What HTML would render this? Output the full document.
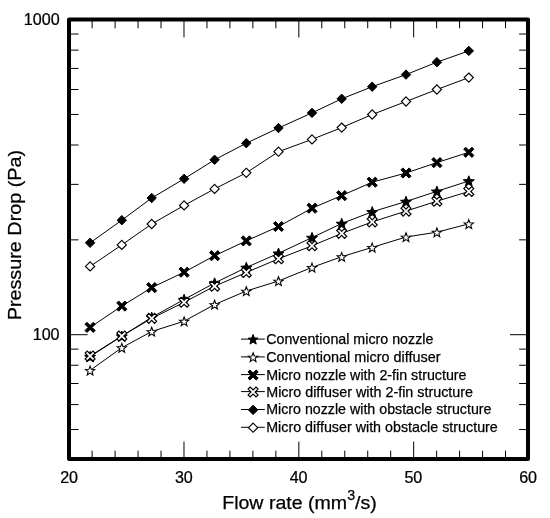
<!DOCTYPE html>
<html><head><meta charset="utf-8"><title>Pressure drop vs flow rate</title>
<style>
html,body{margin:0;padding:0;background:#fff;}
body{width:550px;height:518px;overflow:hidden;}
svg{display:block;font-family:"Liberation Sans",sans-serif;fill:#000;}
.tk{stroke:#000;stroke-width:1;fill:none;}
.ln{stroke:#000;stroke-width:1;fill:none;}
.f{fill:#000;stroke:#000;stroke-width:1;stroke-linejoin:miter;}
.o{fill:#fff;stroke:#000;stroke-width:1.25;stroke-linejoin:miter;}
.tl{font-size:15.6px;}
.lg{font-size:14.6px;}
.ax{font-size:19px;}
text{stroke:#000;stroke-width:0.25px;}
</style></head><body>
<svg width="550" height="518" viewBox="0 0 550 518">
<rect x="0" y="0" width="550" height="518" fill="#fff"/>
<path class="tk" d="M92.12 18.9V28.3M92.12 460.1V450.7M115.09 18.9V28.3M115.09 460.1V450.7M138.05 18.9V28.3M138.05 460.1V450.7M161.02 18.9V28.3M161.02 460.1V450.7M183.99 18.9V37.4M183.99 460.1V441.6M206.96 18.9V28.3M206.96 460.1V450.7M229.92 18.9V28.3M229.92 460.1V450.7M252.89 18.9V28.3M252.89 460.1V450.7M275.86 18.9V28.3M275.86 460.1V450.7M298.83 18.9V37.4M298.83 460.1V441.6M321.79 18.9V28.3M321.79 460.1V450.7M344.76 18.9V28.3M344.76 460.1V450.7M367.73 18.9V28.3M367.73 460.1V450.7M390.7 18.9V28.3M390.7 460.1V450.7M413.66 18.9V37.4M413.66 460.1V441.6M436.63 18.9V28.3M436.63 460.1V450.7M459.6 18.9V28.3M459.6 460.1V450.7M482.57 18.9V28.3M482.57 460.1V450.7M505.53 18.9V28.3M505.53 460.1V450.7M69.15 429.55H78.55M528.5 429.55H519.1M69.15 404.6H78.55M528.5 404.6H519.1M69.15 383.51H78.55M528.5 383.51H519.1M69.15 365.24H78.55M528.5 365.24H519.1M69.15 349.12H78.55M528.5 349.12H519.1M69.15 334.7H87.65M528.5 334.7H510M69.15 239.85H78.55M528.5 239.85H519.1M69.15 184.36H78.55M528.5 184.36H519.1M69.15 144.99H78.55M528.5 144.99H519.1M69.15 114.45H78.55M528.5 114.45H519.1M69.15 89.5H78.55M528.5 89.5H519.1M69.15 68.41H78.55M528.5 68.41H519.1M69.15 50.14H78.55M528.5 50.14H519.1M69.15 34.02H78.55M528.5 34.02H519.1"/>
<g><polyline class="ln" points="90.1,356.6 121.8,336.2 151.7,317.3 184.1,299.5 214.6,283 246.3,267.5 278.5,253.3 312,237.6 341.7,223.5 372.2,211.8 406,201.5 436.9,191.3 468.8,181"/>
<polygon class="f" points="90.1,351.4 91.57,355.18 95.62,355.41 92.48,357.97 93.51,361.89 90.1,359.7 86.69,361.89 87.72,357.97 84.58,355.41 88.63,355.18"/>
<polygon class="f" points="121.8,331 123.27,334.78 127.32,335.01 124.18,337.57 125.21,341.49 121.8,339.3 118.39,341.49 119.42,337.57 116.28,335.01 120.33,334.78"/>
<polygon class="f" points="151.7,312.1 153.17,315.88 157.22,316.11 154.08,318.67 155.11,322.59 151.7,320.4 148.29,322.59 149.32,318.67 146.18,316.11 150.23,315.88"/>
<polygon class="f" points="184.1,294.3 185.57,298.08 189.62,298.31 186.48,300.87 187.51,304.79 184.1,302.6 180.69,304.79 181.72,300.87 178.58,298.31 182.63,298.08"/>
<polygon class="f" points="214.6,277.8 216.07,281.58 220.12,281.81 216.98,284.37 218.01,288.29 214.6,286.1 211.19,288.29 212.22,284.37 209.08,281.81 213.13,281.58"/>
<polygon class="f" points="246.3,262.3 247.77,266.08 251.82,266.31 248.68,268.87 249.71,272.79 246.3,270.6 242.89,272.79 243.92,268.87 240.78,266.31 244.83,266.08"/>
<polygon class="f" points="278.5,248.1 279.97,251.88 284.02,252.11 280.88,254.67 281.91,258.59 278.5,256.4 275.09,258.59 276.12,254.67 272.98,252.11 277.03,251.88"/>
<polygon class="f" points="312,232.4 313.47,236.18 317.52,236.41 314.38,238.97 315.41,242.89 312,240.7 308.59,242.89 309.62,238.97 306.48,236.41 310.53,236.18"/>
<polygon class="f" points="341.7,218.3 343.17,222.08 347.22,222.31 344.08,224.87 345.11,228.79 341.7,226.6 338.29,228.79 339.32,224.87 336.18,222.31 340.23,222.08"/>
<polygon class="f" points="372.2,206.6 373.67,210.38 377.72,210.61 374.58,213.17 375.61,217.09 372.2,214.9 368.79,217.09 369.82,213.17 366.68,210.61 370.73,210.38"/>
<polygon class="f" points="406,196.3 407.47,200.08 411.52,200.31 408.38,202.87 409.41,206.79 406,204.6 402.59,206.79 403.62,202.87 400.48,200.31 404.53,200.08"/>
<polygon class="f" points="436.9,186.1 438.37,189.88 442.42,190.11 439.28,192.67 440.31,196.59 436.9,194.4 433.49,196.59 434.52,192.67 431.38,190.11 435.43,189.88"/>
<polygon class="f" points="468.8,175.8 470.27,179.58 474.32,179.81 471.18,182.37 472.21,186.29 468.8,184.1 465.39,186.29 466.42,182.37 463.28,179.81 467.33,179.58"/>
</g>
<g><polyline class="ln" points="90.1,370.4 121.8,347.7 151.7,331.5 184.1,321.2 214.6,304.5 246.3,291 278.5,281 312,267.4 341.7,256.7 372.2,247.4 406,237 436.9,232.2 468.8,223.9"/>
<polygon class="o" style="stroke-width:1.05" points="90.1,366.1 91.3,369.34 94.76,369.49 92.05,371.63 92.98,374.96 90.1,373.05 87.22,374.96 88.15,371.63 85.44,369.49 88.9,369.34"/>
<polygon class="o" style="stroke-width:1.05" points="121.8,343.4 123,346.64 126.46,346.79 123.75,348.93 124.68,352.26 121.8,350.35 118.92,352.26 119.85,348.93 117.14,346.79 120.6,346.64"/>
<polygon class="o" style="stroke-width:1.05" points="151.7,327.2 152.9,330.44 156.36,330.59 153.65,332.73 154.58,336.06 151.7,334.15 148.82,336.06 149.75,332.73 147.04,330.59 150.5,330.44"/>
<polygon class="o" style="stroke-width:1.05" points="184.1,316.9 185.3,320.14 188.76,320.29 186.05,322.43 186.98,325.76 184.1,323.85 181.22,325.76 182.15,322.43 179.44,320.29 182.9,320.14"/>
<polygon class="o" style="stroke-width:1.05" points="214.6,300.2 215.8,303.44 219.26,303.59 216.55,305.73 217.48,309.06 214.6,307.15 211.72,309.06 212.65,305.73 209.94,303.59 213.4,303.44"/>
<polygon class="o" style="stroke-width:1.05" points="246.3,286.7 247.5,289.94 250.96,290.09 248.25,292.23 249.18,295.56 246.3,293.65 243.42,295.56 244.35,292.23 241.64,290.09 245.1,289.94"/>
<polygon class="o" style="stroke-width:1.05" points="278.5,276.7 279.7,279.94 283.16,280.09 280.45,282.23 281.38,285.56 278.5,283.65 275.62,285.56 276.55,282.23 273.84,280.09 277.3,279.94"/>
<polygon class="o" style="stroke-width:1.05" points="312,263.1 313.2,266.34 316.66,266.49 313.95,268.63 314.88,271.96 312,270.05 309.12,271.96 310.05,268.63 307.34,266.49 310.8,266.34"/>
<polygon class="o" style="stroke-width:1.05" points="341.7,252.4 342.9,255.64 346.36,255.79 343.65,257.93 344.58,261.26 341.7,259.35 338.82,261.26 339.75,257.93 337.04,255.79 340.5,255.64"/>
<polygon class="o" style="stroke-width:1.05" points="372.2,243.1 373.4,246.34 376.86,246.49 374.15,248.63 375.08,251.96 372.2,250.05 369.32,251.96 370.25,248.63 367.54,246.49 371,246.34"/>
<polygon class="o" style="stroke-width:1.05" points="406,232.7 407.2,235.94 410.66,236.09 407.95,238.23 408.88,241.56 406,239.65 403.12,241.56 404.05,238.23 401.34,236.09 404.8,235.94"/>
<polygon class="o" style="stroke-width:1.05" points="436.9,227.9 438.1,231.14 441.56,231.29 438.85,233.43 439.78,236.76 436.9,234.85 434.02,236.76 434.95,233.43 432.24,231.29 435.7,231.14"/>
<polygon class="o" style="stroke-width:1.05" points="468.8,219.6 470,222.84 473.46,222.99 470.75,225.13 471.68,228.46 468.8,226.55 465.92,228.46 466.85,225.13 464.14,222.99 467.6,222.84"/>
</g>
<g><polyline class="ln" points="90.1,327.4 121.8,306.1 151.7,287.6 184.1,272.2 214.6,255.7 246.3,240.9 278.5,226.5 312,208.2 341.7,195.6 372.2,182.2 406,173 436.9,162.6 468.8,152.3"/>
<polygon class="f" points="92.08,327.4 95.19,330.51 93.21,332.49 90.1,329.38 86.99,332.49 85.01,330.51 88.12,327.4 85.01,324.29 86.99,322.31 90.1,325.42 93.21,322.31 95.19,324.29"/>
<polygon class="f" points="123.78,306.1 126.89,309.21 124.91,311.19 121.8,308.08 118.69,311.19 116.71,309.21 119.82,306.1 116.71,302.99 118.69,301.01 121.8,304.12 124.91,301.01 126.89,302.99"/>
<polygon class="f" points="153.68,287.6 156.79,290.71 154.81,292.69 151.7,289.58 148.59,292.69 146.61,290.71 149.72,287.6 146.61,284.49 148.59,282.51 151.7,285.62 154.81,282.51 156.79,284.49"/>
<polygon class="f" points="186.08,272.2 189.19,275.31 187.21,277.29 184.1,274.18 180.99,277.29 179.01,275.31 182.12,272.2 179.01,269.09 180.99,267.11 184.1,270.22 187.21,267.11 189.19,269.09"/>
<polygon class="f" points="216.58,255.7 219.69,258.81 217.71,260.79 214.6,257.68 211.49,260.79 209.51,258.81 212.62,255.7 209.51,252.59 211.49,250.61 214.6,253.72 217.71,250.61 219.69,252.59"/>
<polygon class="f" points="248.28,240.9 251.39,244.01 249.41,245.99 246.3,242.88 243.19,245.99 241.21,244.01 244.32,240.9 241.21,237.79 243.19,235.81 246.3,238.92 249.41,235.81 251.39,237.79"/>
<polygon class="f" points="280.48,226.5 283.59,229.61 281.61,231.59 278.5,228.48 275.39,231.59 273.41,229.61 276.52,226.5 273.41,223.39 275.39,221.41 278.5,224.52 281.61,221.41 283.59,223.39"/>
<polygon class="f" points="313.98,208.2 317.09,211.31 315.11,213.29 312,210.18 308.89,213.29 306.91,211.31 310.02,208.2 306.91,205.09 308.89,203.11 312,206.22 315.11,203.11 317.09,205.09"/>
<polygon class="f" points="343.68,195.6 346.79,198.71 344.81,200.69 341.7,197.58 338.59,200.69 336.61,198.71 339.72,195.6 336.61,192.49 338.59,190.51 341.7,193.62 344.81,190.51 346.79,192.49"/>
<polygon class="f" points="374.18,182.2 377.29,185.31 375.31,187.29 372.2,184.18 369.09,187.29 367.11,185.31 370.22,182.2 367.11,179.09 369.09,177.11 372.2,180.22 375.31,177.11 377.29,179.09"/>
<polygon class="f" points="407.98,173 411.09,176.11 409.11,178.09 406,174.98 402.89,178.09 400.91,176.11 404.02,173 400.91,169.89 402.89,167.91 406,171.02 409.11,167.91 411.09,169.89"/>
<polygon class="f" points="438.88,162.6 441.99,165.71 440.01,167.69 436.9,164.58 433.79,167.69 431.81,165.71 434.92,162.6 431.81,159.49 433.79,157.51 436.9,160.62 440.01,157.51 441.99,159.49"/>
<polygon class="f" points="470.78,152.3 473.89,155.41 471.91,157.39 468.8,154.28 465.69,157.39 463.71,155.41 466.82,152.3 463.71,149.19 465.69,147.21 468.8,150.32 471.91,147.21 473.89,149.19"/>
</g>
<g><polyline class="ln" points="90.1,356 121.8,336 151.7,318.4 184.1,302.3 214.6,286.2 246.3,272.5 278.5,258.8 312,245.8 341.7,233.4 372.2,221.9 406,211.1 436.9,201.2 468.8,191.5"/>
<polygon class="o" style="stroke-width:1.2" points="92.15,356 95.05,358.9 93,360.95 90.1,358.05 87.2,360.95 85.15,358.9 88.05,356 85.15,353.1 87.2,351.05 90.1,353.95 93,351.05 95.05,353.1"/>
<polygon class="o" style="stroke-width:1.2" points="123.85,336 126.75,338.9 124.7,340.95 121.8,338.05 118.9,340.95 116.85,338.9 119.75,336 116.85,333.1 118.9,331.05 121.8,333.95 124.7,331.05 126.75,333.1"/>
<polygon class="o" style="stroke-width:1.2" points="153.75,318.4 156.65,321.3 154.6,323.35 151.7,320.45 148.8,323.35 146.75,321.3 149.65,318.4 146.75,315.5 148.8,313.45 151.7,316.35 154.6,313.45 156.65,315.5"/>
<polygon class="o" style="stroke-width:1.2" points="186.15,302.3 189.05,305.2 187,307.25 184.1,304.35 181.2,307.25 179.15,305.2 182.05,302.3 179.15,299.4 181.2,297.35 184.1,300.25 187,297.35 189.05,299.4"/>
<polygon class="o" style="stroke-width:1.2" points="216.65,286.2 219.55,289.1 217.5,291.15 214.6,288.25 211.7,291.15 209.65,289.1 212.55,286.2 209.65,283.3 211.7,281.25 214.6,284.15 217.5,281.25 219.55,283.3"/>
<polygon class="o" style="stroke-width:1.2" points="248.35,272.5 251.25,275.4 249.2,277.45 246.3,274.55 243.4,277.45 241.35,275.4 244.25,272.5 241.35,269.6 243.4,267.55 246.3,270.45 249.2,267.55 251.25,269.6"/>
<polygon class="o" style="stroke-width:1.2" points="280.55,258.8 283.45,261.7 281.4,263.75 278.5,260.85 275.6,263.75 273.55,261.7 276.45,258.8 273.55,255.9 275.6,253.85 278.5,256.75 281.4,253.85 283.45,255.9"/>
<polygon class="o" style="stroke-width:1.2" points="314.05,245.8 316.95,248.7 314.9,250.75 312,247.85 309.1,250.75 307.05,248.7 309.95,245.8 307.05,242.9 309.1,240.85 312,243.75 314.9,240.85 316.95,242.9"/>
<polygon class="o" style="stroke-width:1.2" points="343.75,233.4 346.65,236.3 344.6,238.35 341.7,235.45 338.8,238.35 336.75,236.3 339.65,233.4 336.75,230.5 338.8,228.45 341.7,231.35 344.6,228.45 346.65,230.5"/>
<polygon class="o" style="stroke-width:1.2" points="374.25,221.9 377.15,224.8 375.1,226.85 372.2,223.95 369.3,226.85 367.25,224.8 370.15,221.9 367.25,219 369.3,216.95 372.2,219.85 375.1,216.95 377.15,219"/>
<polygon class="o" style="stroke-width:1.2" points="408.05,211.1 410.95,214 408.9,216.05 406,213.15 403.1,216.05 401.05,214 403.95,211.1 401.05,208.2 403.1,206.15 406,209.05 408.9,206.15 410.95,208.2"/>
<polygon class="o" style="stroke-width:1.2" points="438.95,201.2 441.85,204.1 439.8,206.15 436.9,203.25 434,206.15 431.95,204.1 434.85,201.2 431.95,198.3 434,196.25 436.9,199.15 439.8,196.25 441.85,198.3"/>
<polygon class="o" style="stroke-width:1.2" points="470.85,191.5 473.75,194.4 471.7,196.45 468.8,193.55 465.9,196.45 463.85,194.4 466.75,191.5 463.85,188.6 465.9,186.55 468.8,189.45 471.7,186.55 473.75,188.6"/>
</g>
<g><polyline class="ln" points="90.1,242.8 121.8,220.2 151.7,198 184.1,178.8 214.6,159.8 246.3,143.2 278.5,128 312,112.9 341.7,98.8 372.2,86.7 406,74.6 436.9,62.2 468.8,50.9"/>
<polygon class="f" points="90.1,238.1 94.8,242.8 90.1,247.5 85.4,242.8"/>
<polygon class="f" points="121.8,215.5 126.5,220.2 121.8,224.9 117.1,220.2"/>
<polygon class="f" points="151.7,193.3 156.4,198 151.7,202.7 147,198"/>
<polygon class="f" points="184.1,174.1 188.8,178.8 184.1,183.5 179.4,178.8"/>
<polygon class="f" points="214.6,155.1 219.3,159.8 214.6,164.5 209.9,159.8"/>
<polygon class="f" points="246.3,138.5 251,143.2 246.3,147.9 241.6,143.2"/>
<polygon class="f" points="278.5,123.3 283.2,128 278.5,132.7 273.8,128"/>
<polygon class="f" points="312,108.2 316.7,112.9 312,117.6 307.3,112.9"/>
<polygon class="f" points="341.7,94.1 346.4,98.8 341.7,103.5 337,98.8"/>
<polygon class="f" points="372.2,82 376.9,86.7 372.2,91.4 367.5,86.7"/>
<polygon class="f" points="406,69.9 410.7,74.6 406,79.3 401.3,74.6"/>
<polygon class="f" points="436.9,57.5 441.6,62.2 436.9,66.9 432.2,62.2"/>
<polygon class="f" points="468.8,46.2 473.5,50.9 468.8,55.6 464.1,50.9"/>
</g>
<g><polyline class="ln" points="90.1,266.4 121.8,244.9 151.7,224 184.1,205.4 214.6,188.9 246.3,172.8 278.5,151.7 312,139.4 341.7,127.6 372.2,114.5 406,101.5 436.9,89.5 468.8,77.6"/>
<polygon class="o" style="stroke-width:1.15" points="90.1,261.8 94.7,266.4 90.1,271 85.5,266.4"/>
<polygon class="o" style="stroke-width:1.15" points="121.8,240.3 126.4,244.9 121.8,249.5 117.2,244.9"/>
<polygon class="o" style="stroke-width:1.15" points="151.7,219.4 156.3,224 151.7,228.6 147.1,224"/>
<polygon class="o" style="stroke-width:1.15" points="184.1,200.8 188.7,205.4 184.1,210 179.5,205.4"/>
<polygon class="o" style="stroke-width:1.15" points="214.6,184.3 219.2,188.9 214.6,193.5 210,188.9"/>
<polygon class="o" style="stroke-width:1.15" points="246.3,168.2 250.9,172.8 246.3,177.4 241.7,172.8"/>
<polygon class="o" style="stroke-width:1.15" points="278.5,147.1 283.1,151.7 278.5,156.3 273.9,151.7"/>
<polygon class="o" style="stroke-width:1.15" points="312,134.8 316.6,139.4 312,144 307.4,139.4"/>
<polygon class="o" style="stroke-width:1.15" points="341.7,123 346.3,127.6 341.7,132.2 337.1,127.6"/>
<polygon class="o" style="stroke-width:1.15" points="372.2,109.9 376.8,114.5 372.2,119.1 367.6,114.5"/>
<polygon class="o" style="stroke-width:1.15" points="406,96.9 410.6,101.5 406,106.1 401.4,101.5"/>
<polygon class="o" style="stroke-width:1.15" points="436.9,84.9 441.5,89.5 436.9,94.1 432.3,89.5"/>
<polygon class="o" style="stroke-width:1.15" points="468.8,73 473.4,77.6 468.8,82.2 464.2,77.6"/>
</g>
<rect x="69" y="19.4" width="459" height="439.65" fill="none" stroke="#000" stroke-width="4" stroke-linejoin="round"/>
<text class="tl" transform="translate(69.1 483.3) scale(1.035 1)" text-anchor="middle">20</text>
<text class="tl" transform="translate(183.85 483.3) scale(1.035 1)" text-anchor="middle">30</text>
<text class="tl" transform="translate(298.6 483.3) scale(1.035 1)" text-anchor="middle">40</text>
<text class="tl" transform="translate(413.35 483.3) scale(1.035 1)" text-anchor="middle">50</text>
<text class="tl" transform="translate(528.1 483.3) scale(1.035 1)" text-anchor="middle">60</text>
<text class="tl" transform="translate(59.6 25) scale(1.035 1)" text-anchor="end">1000</text>
<text class="tl" transform="translate(59.6 340) scale(1.035 1)" text-anchor="end">100</text>
<text class="ax" x="222.2" y="509" textLength="154.6" lengthAdjust="spacingAndGlyphs">Flow rate (mm<tspan dy="-9" font-size="13.8px">3</tspan><tspan dy="9">/s)</tspan></text>
<text class="ax" transform="translate(21.1 320.3) rotate(-90)" textLength="170.4" lengthAdjust="spacingAndGlyphs">Pressure Drop (Pa)</text>
<path class="ln" d="M241 339.1H264.8"/>
<polygon class="f" points="253.1,334.5 254.45,337.94 258.14,338.16 255.29,340.51 256.22,344.09 253.1,342.1 249.98,344.09 250.91,340.51 248.06,338.16 251.75,337.94"/>
<text class="lg" x="266.2" y="344.3" textLength="167.2" lengthAdjust="spacingAndGlyphs">Conventional micro nozzle</text>
<path class="ln" d="M241 356.9H264.8"/>
<polygon class="o" style="stroke-width:1.05" points="253.1,352.7 254.3,355.94 257.76,356.09 255.05,358.23 255.98,361.56 253.1,359.65 250.22,361.56 251.15,358.23 248.44,356.09 251.9,355.94"/>
<text class="lg" x="266.2" y="362.1" textLength="174.4" lengthAdjust="spacingAndGlyphs">Conventional micro diffuser</text>
<path class="ln" d="M241 374.6H264.8"/>
<polygon class="f" points="255.08,375 258.19,378.11 256.21,380.09 253.1,376.98 249.99,380.09 248.01,378.11 251.12,375 248.01,371.89 249.99,369.91 253.1,373.02 256.21,369.91 258.19,371.89"/>
<text class="lg" x="266.2" y="379.8" textLength="200.3" lengthAdjust="spacingAndGlyphs">Micro nozzle with 2-fin structure</text>
<path class="ln" d="M241 391.6H264.8"/>
<polygon class="o" style="stroke-width:1.2" points="255.15,392 258.05,394.9 256,396.95 253.1,394.05 250.2,396.95 248.15,394.9 251.05,392 248.15,389.1 250.2,387.05 253.1,389.95 256,387.05 258.05,389.1"/>
<text class="lg" x="266.2" y="397.3" textLength="206.9" lengthAdjust="spacingAndGlyphs">Micro diffuser with 2-fin structure</text>
<path class="ln" d="M241 409.5H264.8"/>
<polygon class="f" points="253.1,405.2 257.8,409.9 253.1,414.6 248.4,409.9"/>
<text class="lg" x="266.2" y="414.4" textLength="225.3" lengthAdjust="spacingAndGlyphs">Micro nozzle with obstacle structure</text>
<path class="ln" d="M241 427.3H264.8"/>
<polygon class="o" style="stroke-width:1.15" points="253.1,423.1 257.7,427.7 253.1,432.3 248.5,427.7"/>
<text class="lg" x="266.2" y="432.3" textLength="231.6" lengthAdjust="spacingAndGlyphs">Micro diffuser with obstacle structure</text>
</svg></body></html>
